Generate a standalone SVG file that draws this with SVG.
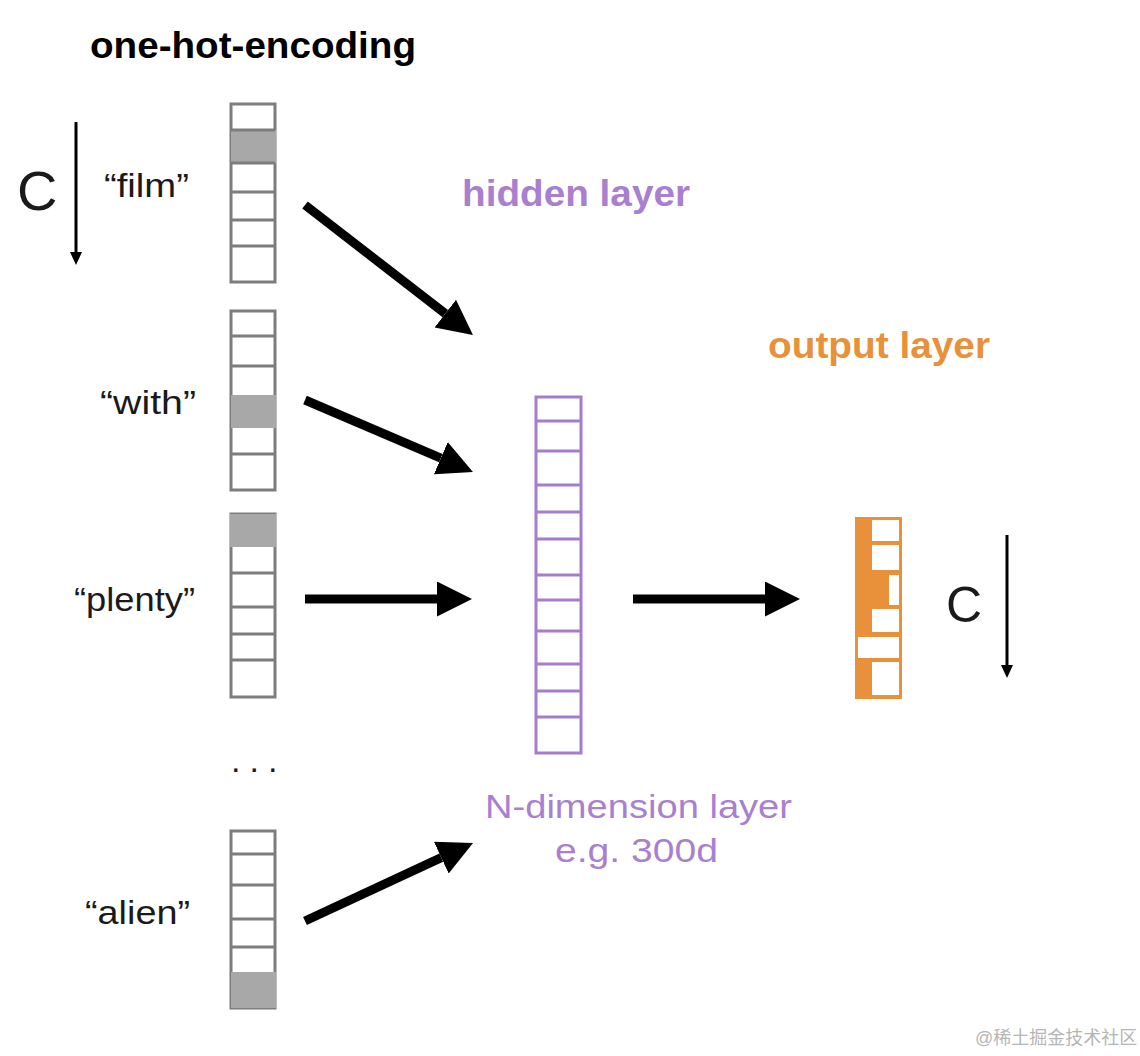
<svg xmlns="http://www.w3.org/2000/svg" width="1140" height="1056" viewBox="0 0 1140 1056">
<defs>
<style>
.vec{fill:#ffffff;stroke:#7d7d7d;stroke-width:3}
.div{stroke:#7d7d7d;stroke-width:3}
.hot{fill:#a8a8a8}
.hid{fill:#ffffff;stroke:#a67dcc;stroke-width:3}
.hdiv{stroke:#a67dcc;stroke-width:3}
.lbl{font-family:"Liberation Sans",Arial,sans-serif;font-size:34px;fill:#1a1a1a}
.ttl{font-family:"Liberation Sans",Arial,sans-serif;font-size:37px;font-weight:bold}
.big{stroke:#000000;stroke-width:9;fill:none;marker-end:url(#bigHead)}
.small{stroke:#000000;stroke-width:3;fill:none;marker-end:url(#smallHead)}
</style>
<marker id="bigHead" markerUnits="userSpaceOnUse" markerWidth="36" markerHeight="36" refX="0" refY="17.5" orient="auto">
<path d="M0,0 L35,17.5 L0,35 Z" fill="#000000"/>
</marker>
<marker id="smallHead" markerUnits="userSpaceOnUse" markerWidth="14" markerHeight="12" refX="0" refY="6" orient="auto">
<path d="M0,0 L13,6 L0,12 Z" fill="#000000"/>
</marker>
</defs>
<rect width="1140" height="1056" fill="#ffffff"/>

<text class="ttl" x="90" y="58" fill="#000000" textLength="326" lengthAdjust="spacingAndGlyphs">one-hot-encoding</text>

<g id="c-left">
<text x="17" y="210" font-family="Liberation Sans,Arial,sans-serif" font-size="56" fill="#1a1a1a">C</text>
<line class="small" x1="76" y1="122" x2="76" y2="252"/>
</g>

<g id="vec-film">
<rect class="vec" x="231" y="104" width="44" height="178"/>
<rect class="hot" x="231" y="130" width="45" height="33"/>
<line class="div" x1="231" y1="130" x2="275" y2="130"/>
<line class="div" x1="231" y1="163" x2="275" y2="163"/>
<line class="div" x1="231" y1="192" x2="275" y2="192"/>
<line class="div" x1="231" y1="220" x2="275" y2="220"/>
<line class="div" x1="231" y1="246" x2="275" y2="246"/>
<text class="lbl" x="104" y="197" textLength="85" lengthAdjust="spacingAndGlyphs">“film”</text>
</g>

<g id="vec-with">
<rect class="vec" x="231" y="311" width="44" height="179"/>
<rect class="hot" x="231" y="395" width="45" height="33"/>
<line class="div" x1="231" y1="336" x2="275" y2="336"/>
<line class="div" x1="231" y1="366" x2="275" y2="366"/>
<line class="div" x1="231" y1="454" x2="275" y2="454"/>
<text class="lbl" x="100" y="414" textLength="96" lengthAdjust="spacingAndGlyphs">“with”</text>
</g>

<g id="vec-plenty">
<rect class="vec" x="231" y="514" width="44" height="183"/>
<rect class="hot" x="230" y="514" width="46" height="33"/>
<line class="div" x1="231" y1="573" x2="275" y2="573"/>
<line class="div" x1="231" y1="607" x2="275" y2="607"/>
<line class="div" x1="231" y1="634" x2="275" y2="634"/>
<line class="div" x1="231" y1="660" x2="275" y2="660"/>
<text class="lbl" x="74" y="611" textLength="121" lengthAdjust="spacingAndGlyphs">“plenty”</text>
</g>

<text class="lbl" x="231" y="772" letter-spacing="9">...</text>

<g id="vec-alien">
<rect class="vec" x="231" y="831" width="44" height="177"/>
<rect class="hot" x="231" y="972" width="45" height="36"/>
<line class="div" x1="231" y1="854" x2="275" y2="854"/>
<line class="div" x1="231" y1="885" x2="275" y2="885"/>
<line class="div" x1="231" y1="919" x2="275" y2="919"/>
<line class="div" x1="231" y1="947" x2="275" y2="947"/>
<text class="lbl" x="85" y="924" textLength="105" lengthAdjust="spacingAndGlyphs">“alien”</text>
</g>

<g id="hidden-layer">
<text class="ttl" x="462" y="206" fill="#a97fd0" textLength="228" lengthAdjust="spacingAndGlyphs">hidden layer</text>
<rect class="hid" x="536" y="397" width="45" height="356"/>
<line class="hdiv" x1="536" y1="421" x2="581" y2="421"/>
<line class="hdiv" x1="536" y1="451" x2="581" y2="451"/>
<line class="hdiv" x1="536" y1="485" x2="581" y2="485"/>
<line class="hdiv" x1="536" y1="512" x2="581" y2="512"/>
<line class="hdiv" x1="536" y1="539" x2="581" y2="539"/>
<line class="hdiv" x1="536" y1="575" x2="581" y2="575"/>
<line class="hdiv" x1="536" y1="600" x2="581" y2="600"/>
<line class="hdiv" x1="536" y1="631" x2="581" y2="631"/>
<line class="hdiv" x1="536" y1="664" x2="581" y2="664"/>
<line class="hdiv" x1="536" y1="691" x2="581" y2="691"/>
<line class="hdiv" x1="536" y1="717" x2="581" y2="717"/>
<text x="485" y="818" font-family="Liberation Sans,Arial,sans-serif" font-size="34" fill="#a97fd0" textLength="307" lengthAdjust="spacingAndGlyphs">N-dimension layer</text>
<text x="555" y="862" font-family="Liberation Sans,Arial,sans-serif" font-size="34" fill="#a97fd0" textLength="163" lengthAdjust="spacingAndGlyphs">e.g. 300d</text>
</g>

<g id="output-layer">
<text class="ttl" x="768" y="358" fill="#e8913a" textLength="222" lengthAdjust="spacingAndGlyphs">output layer</text>
<rect x="855" y="517" width="47" height="182" fill="#e8913a"/>
<rect x="872" y="520" width="27" height="21" fill="#ffffff"/>
<rect x="872" y="545" width="27" height="25" fill="#ffffff"/>
<rect x="889" y="575" width="10" height="30" fill="#ffffff"/>
<rect x="872" y="609" width="27" height="23" fill="#ffffff"/>
<rect x="858" y="637" width="41" height="21" fill="#ffffff"/>
<rect x="872" y="662" width="27" height="33" fill="#ffffff"/>
</g>

<g id="c-right">
<text x="946" y="622" font-family="Liberation Sans,Arial,sans-serif" font-size="50" fill="#1a1a1a">C</text>
<line class="small" x1="1007" y1="535" x2="1007" y2="665"/>
</g>

<g id="connectors">
<line class="big" x1="305" y1="205" x2="445.3" y2="313.6"/>
<line class="big" x1="305" y1="400" x2="440.8" y2="458.2"/>
<line class="big" x1="305" y1="599" x2="437" y2="599"/>
<line class="big" x1="305" y1="921" x2="441.3" y2="857.7"/>
<line class="big" x1="633" y1="599" x2="765" y2="599"/>
</g>

<text x="975" y="1044" font-family="Liberation Sans,Noto Sans CJK SC,sans-serif" font-size="18" fill="#b5b5b5">@稀土掘金技术社区</text>
</svg>
